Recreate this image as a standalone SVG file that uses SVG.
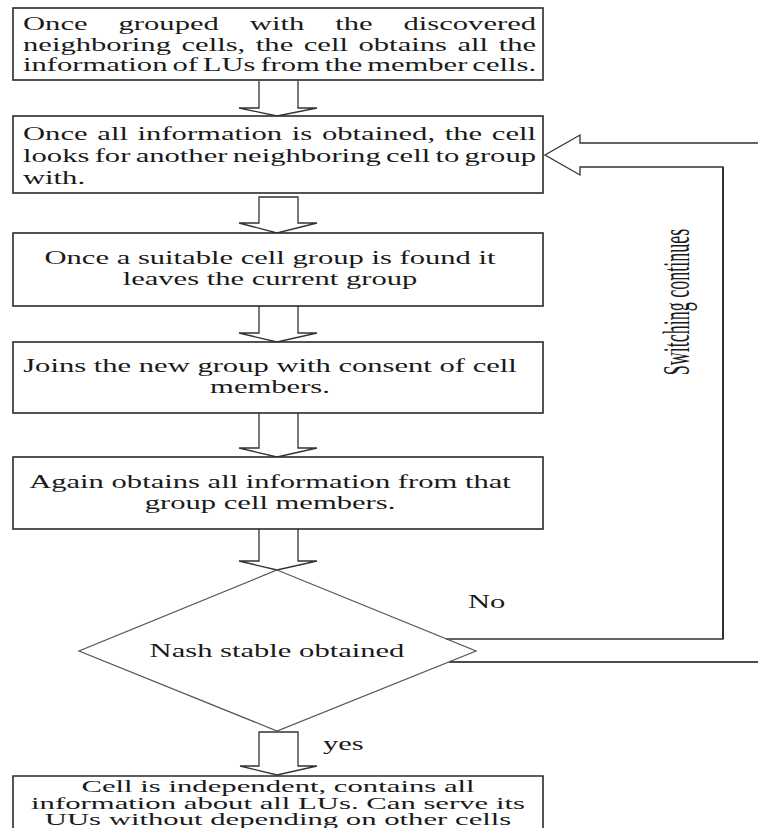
<svg xmlns="http://www.w3.org/2000/svg" width="758" height="828" viewBox="0 0 758 828">
<style>
.box{fill:#fff;stroke:#2a2a2a;stroke-width:1.6}
.arr{fill:none;stroke:#333;stroke-width:1.3;stroke-linejoin:miter}
.dia{fill:none;stroke:#555;stroke-width:1.2}
.t{font-family:"Liberation Serif","Times New Roman",serif;font-size:18px;fill:#1a1a1a}
.s{font-size:16px}
.c{text-anchor:middle}
</style>
<rect width="758" height="828" fill="#fff"/>
<g id="connectors">
<polyline class="arr" points="259,81 259,108 239,108 277,116 317,108 298,108 298,81"/>
<polygon class="arr" points="259,197 259,223 239,223 277,233 317,223 298,223 298,197"/>
<polyline class="arr" points="259,306 259,333 239,333 277,342 317,333 298,333 298,306"/>
<polyline class="arr" points="259,413 259,448 239,448 277,457 317,448 298,448 298,413"/>
<polyline class="arr" points="259,529 259,561 239,561 277,570 317,561 298,561 298,529"/>
<polygon class="arr" points="259,732 259,766 240,766 277,775 317,766 298,766 298,732"/>
<polyline class="arr" points="446,639 723,639 723,167 580,167 580,175 545,155 580,135 580,143 758,143"/>
<line x1="723" y1="639" x2="723" y2="167" stroke="#333" stroke-width="2"/>
<line x1="449" y1="662" x2="758" y2="662" stroke="#111" stroke-width="1.4"/>
<text class="t" transform="translate(468,608) scale(1.7,1)">No</text>
<text class="t" transform="translate(323,750) scale(1.7,1)">yes</text>
<text class="t c" font-size="17" transform="translate(689,302) scale(2.1,1) rotate(-90)">Switching continues</text>
</g>
<g id="n1">
<rect class="box" x="13" y="8" width="530" height="72"/>
<text class="t" transform="translate(23,30) scale(1.7,1)" word-spacing="13.7" textLength="301.8" lengthAdjust="spacingAndGlyphs">Once grouped with the discovered</text>
<text class="t" transform="translate(23,50.5) scale(1.7,1)" word-spacing="1.7" textLength="301.8" lengthAdjust="spacingAndGlyphs">neighboring cells, the cell obtains all the</text>
<text class="t" transform="translate(23,71) scale(1.7,1)" word-spacing="-1.6" textLength="301.8" lengthAdjust="spacingAndGlyphs">information of LUs from the member cells.</text>
</g>
<g id="n2">
<rect class="box" x="13" y="116" width="530" height="77"/>
<text class="t" transform="translate(23,140) scale(1.7,1)" word-spacing="1.2" textLength="301.8" lengthAdjust="spacingAndGlyphs">Once all information is obtained, the cell</text>
<text class="t" transform="translate(23,162) scale(1.7,1)" word-spacing="-1.4" textLength="301.8" lengthAdjust="spacingAndGlyphs">looks for another neighboring cell to group</text>
<text class="t" transform="translate(23,184) scale(1.7,1)">with.</text>
</g>
<g id="n3">
<rect class="box" x="13" y="233" width="530" height="73"/>
<text class="t c" transform="translate(270,264) scale(1.7,1)">Once a suitable cell group is found it</text>
<text class="t c" transform="translate(270,285) scale(1.7,1)">leaves the current group</text>
</g>
<g id="n4">
<rect class="box" x="13" y="342" width="530" height="71"/>
<text class="t c" transform="translate(270,372) scale(1.7,1)">Joins the new group with consent of cell</text>
<text class="t c" transform="translate(270,393) scale(1.7,1)">members.</text>
</g>
<g id="n5">
<rect class="box" x="13" y="457" width="530" height="72"/>
<text class="t c" transform="translate(270,487.5) scale(1.7,1)">Again obtains all information from that</text>
<text class="t c" transform="translate(270,508.5) scale(1.7,1)">group cell members.</text>
</g>
<g id="n6">
<polygon class="dia" points="277,570 476,651 277,731 79,651"/>
<text class="t c" transform="translate(277,657) scale(1.7,1)">Nash stable obtained</text>
</g>
<g id="n7">
<path class="box" d="M13,828 V776 H543 V828"/>
<text class="t s c" transform="translate(278,792) scale(1.92,1)">Cell is independent, contains all</text>
<text class="t s c" transform="translate(278,808.5) scale(1.92,1)">information about all LUs. Can serve its</text>
<text class="t s c" transform="translate(278,825) scale(1.92,1)">UUs without depending on other cells</text>
</g>
</svg>
